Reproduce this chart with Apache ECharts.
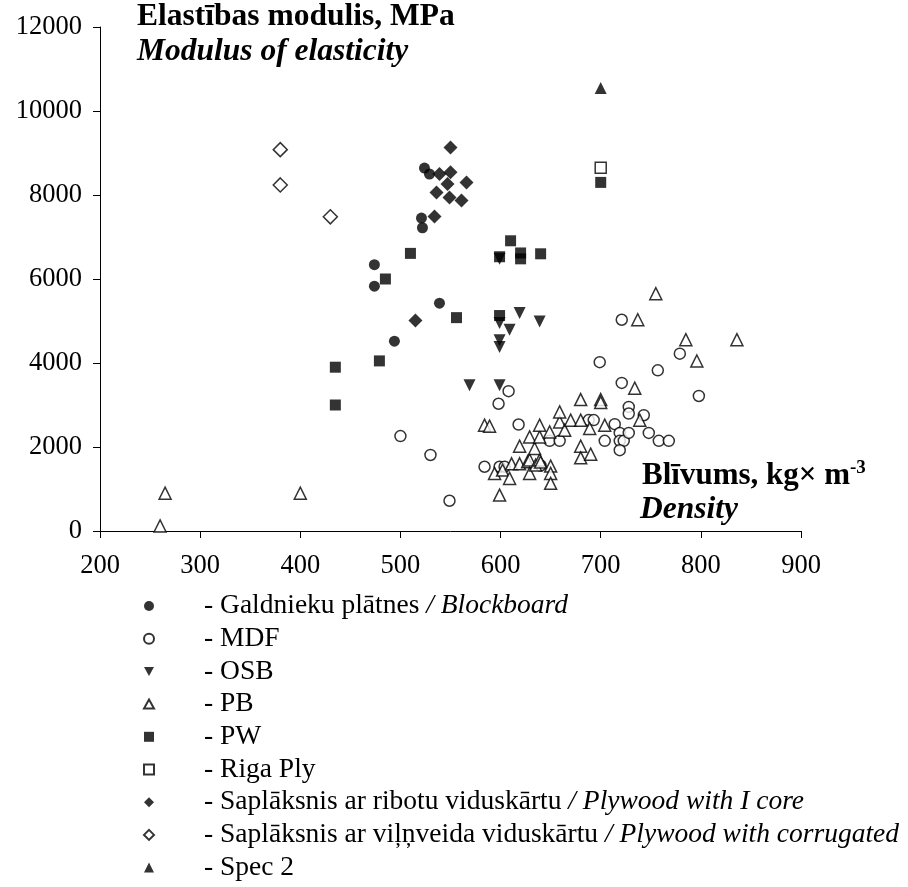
<!DOCTYPE html>
<html>
<head>
<meta charset="utf-8">
<script src="https://cdn.jsdelivr.net/npm/echarts@6/dist/echarts.min.js"></script>
<style>html,body{margin:0;padding:0;background:#fff}#c{width:908px;height:887px}</style>
</head>
<body>
<div id="c"></div>
<script>
// ---- data: [density kg/m3, modulus MPa] ----
const blockboard = [[524,8640],[529,8500],[521,7450],[522,7220],[474,6340],[474,5830],[539,5425],[494,4520]];
const mdf = [[500,2260],[530,1810],[549,720],[584,1530],[599,1530],[604,1530],[598,3030],[608,3330],[618,2535],[640,1560],[649,2146],[659,2146],[688,2640],[693,2640],[699,4020],[704,2146],[714,2543],[719,2336],[719,2146],[723,2146],[719,1925],[721,5030],[721,3525],[728,2955],[728,2797],[728,2336],[743,2757],[748,2336],[757,3826],[758,2146],[768,2146],[779,4223],[798,3215]];
const osb = [[599,6480],[599,4950],[619,5190],[609,4790],[639,4990],[599,4540],[599,4380],[569,3470],[599,3470]];
const pb = [[260,120],[265,900],[400,900],[584,2520],[589,2495],[599,855],[594,1371],[602,1450],[609,1252],[611,1600],[619,1600],[627,1650],[629,1371],[629,1690],[635,1570],[639,1690],[640,1640],[650,1545],[650,1371],[650,1134],[619,2020],[634,1965],[629,2241],[639,2241],[639,2519],[649,2360],[659,2598],[659,2835],[664,2400],[670,2638],[680,2638],[680,2020],[680,1742],[690,1830],[689,2440],[680,3130],[700,3130],[700,3060],[704,2519],[734,3400],[739,2638],[737,5030],[755,5650],[785,4556],[836,4556],[796,4047]];
const pw = [[435,3900],[435,3000],[479,4050],[485,6000],[510,6610],[556,5080],[599,6530],[599,5130],[610,6910],[620,6620],[620,6480],[640,6600],[700,8300]];
const rigaPly = [[700,8650]];
const plyIcore = [[550,9130],[539,8500],[550,8540],[566,8300],[547,8260],[536,8060],[549,7940],[561,7870],[534,7490],[515,5010]];
const plyCorr = [[380,9080],[380,8240],[430,7480]];
const spec2 = [[700,10550]];

const xTicks = {min:200, max:900, step:100};
const yTicks = {min:0, max:12000, step:2000};

const seriesNames = [
  ['- Galdnieku plātnes ', '/ Blockboard'],
  ['- MDF', ''],
  ['- OSB', ''],
  ['- PB', ''],
  ['- PW', ''],
  ['- Riga Ply', ''],
  ['- Saplāksnis ar ribotu viduskārtu ', '/ Plywood with I core'],
  ['- Saplāksnis ar viļņveida viduskārtu ', '/ Plywood with corrugated'],
  ['- Spec 2', '']
];
const seriesData = [blockboard, mdf, osb, pb, pw, rigaPly, plyIcore, plyCorr, spec2];

// ---- styling ----
const FONT = '"Liberation Serif", "Times New Roman", serif';
const filled = {color:'#000'};
const open = {color:'#fff', borderColor:'#000', borderWidth:1.5};
const sym = [
  {symbol:'circle', size:11, style:filled, icon:'circle'},
  {symbol:'circle', size:11, style:open, icon:'circle'},
  {symbol:'triangle', size:12, rotate:180, style:filled, icon:'path://M0,0 L10,0 L5,9 Z'},
  {symbol:'triangle', size:12, style:open, icon:'path://M5,0 L10,9 L0,9 Z'},
  {symbol:'rect', size:11, style:filled, icon:'rect'},
  {symbol:'rect', size:11, style:open, icon:'rect'},
  {symbol:'diamond', size:14, style:filled, icon:'diamond'},
  {symbol:'diamond', size:14, style:open, icon:'diamond'},
  {symbol:'triangle', size:12, style:filled, icon:'triangle'}
];

const names = seriesNames.map(n => n[0] + n[1]);
const series = seriesData.map((d, i) => ({
  name: names[i],
  type: 'scatter',
  data: d,
  symbol: sym[i].symbol,
  symbolSize: sym[i].size,
  symbolRotate: sym[i].rotate || 0,
  itemStyle: sym[i].style,
  z: 2,
  emphasis: {disabled: true}
}));

const LFS = 27.5;
const chart = echarts.init(document.getElementById('c'), null, {renderer:'canvas'});
chart.setOption({
  backgroundColor: '#fff',
  animation: false,
  grid: {left:100, top:27, right:107, bottom:356, containLabel:false},
  xAxis: {
    type:'value', min:xTicks.min, max:xTicks.max, interval:xTicks.step,
    axisLine:{lineStyle:{color:'#000', width:1}},
    axisTick:{show:true, length:7, lineStyle:{color:'#000'}},
    splitLine:{show:false},
    axisLabel:{color:'#000', fontFamily:FONT, fontSize:26.5, margin:22, formatter: v => String(v)}
  },
  yAxis: {
    type:'value', min:yTicks.min, max:yTicks.max, interval:yTicks.step,
    axisLine:{show:true, lineStyle:{color:'#000', width:1}},
    axisTick:{show:true, length:7, lineStyle:{color:'#000'}},
    splitLine:{show:false},
    axisLabel:{color:'#000', fontFamily:FONT, fontSize:26.5, margin:18, formatter: v => String(v)}
  },
  legend: {
    orient:'vertical', left:143, top:592, padding:0,
    itemWidth:10, itemHeight:10, itemGap:4.7,
    selectedMode:false,
    data: names.map((n, i) => ({name:n, icon:sym[i].icon})),
    formatter: function(name){
      const i = names.indexOf(name);
      const p = seriesNames[i];
      return '{s|}{a|' + p[0] + '}' + (p[1] ? '{i|' + p[1] + '}' : '');
    },
    textStyle: {
      color:'#000', fontFamily:FONT, fontSize:LFS, lineHeight:28,
      rich: {
        s:{width:45},
        a:{fontFamily:FONT, fontSize:LFS, color:'#000', lineHeight:28},
        i:{fontFamily:FONT, fontSize:LFS, fontStyle:'italic', color:'#000', lineHeight:28}
      }
    }
  },
  graphic: [
    {type:'text', left:137, top:1, style:{text:'Elastības modulis, MPa', font:'bold 31.5px ' + FONT, fill:'#000'}},
    {type:'text', left:137, top:36, style:{text:'Modulus of elasticity', font:'italic bold 31.5px ' + FONT, fill:'#000'}},
    {type:'text', left:642, top:459, style:{
      text:'{b|Blīvums, kg× m}{s|-3}',
      rich:{b:{font:'bold 31px ' + FONT, fill:'#000'}, s:{font:'bold 19px ' + FONT, fill:'#000', verticalAlign:'top', padding:[0,0,14,0]}}
    }},
    {type:'text', left:640, top:494, style:{text:'Density', font:'italic bold 31.5px ' + FONT, fill:'#000'}}
  ],
  series: series
});
</script>
</body>
</html>
